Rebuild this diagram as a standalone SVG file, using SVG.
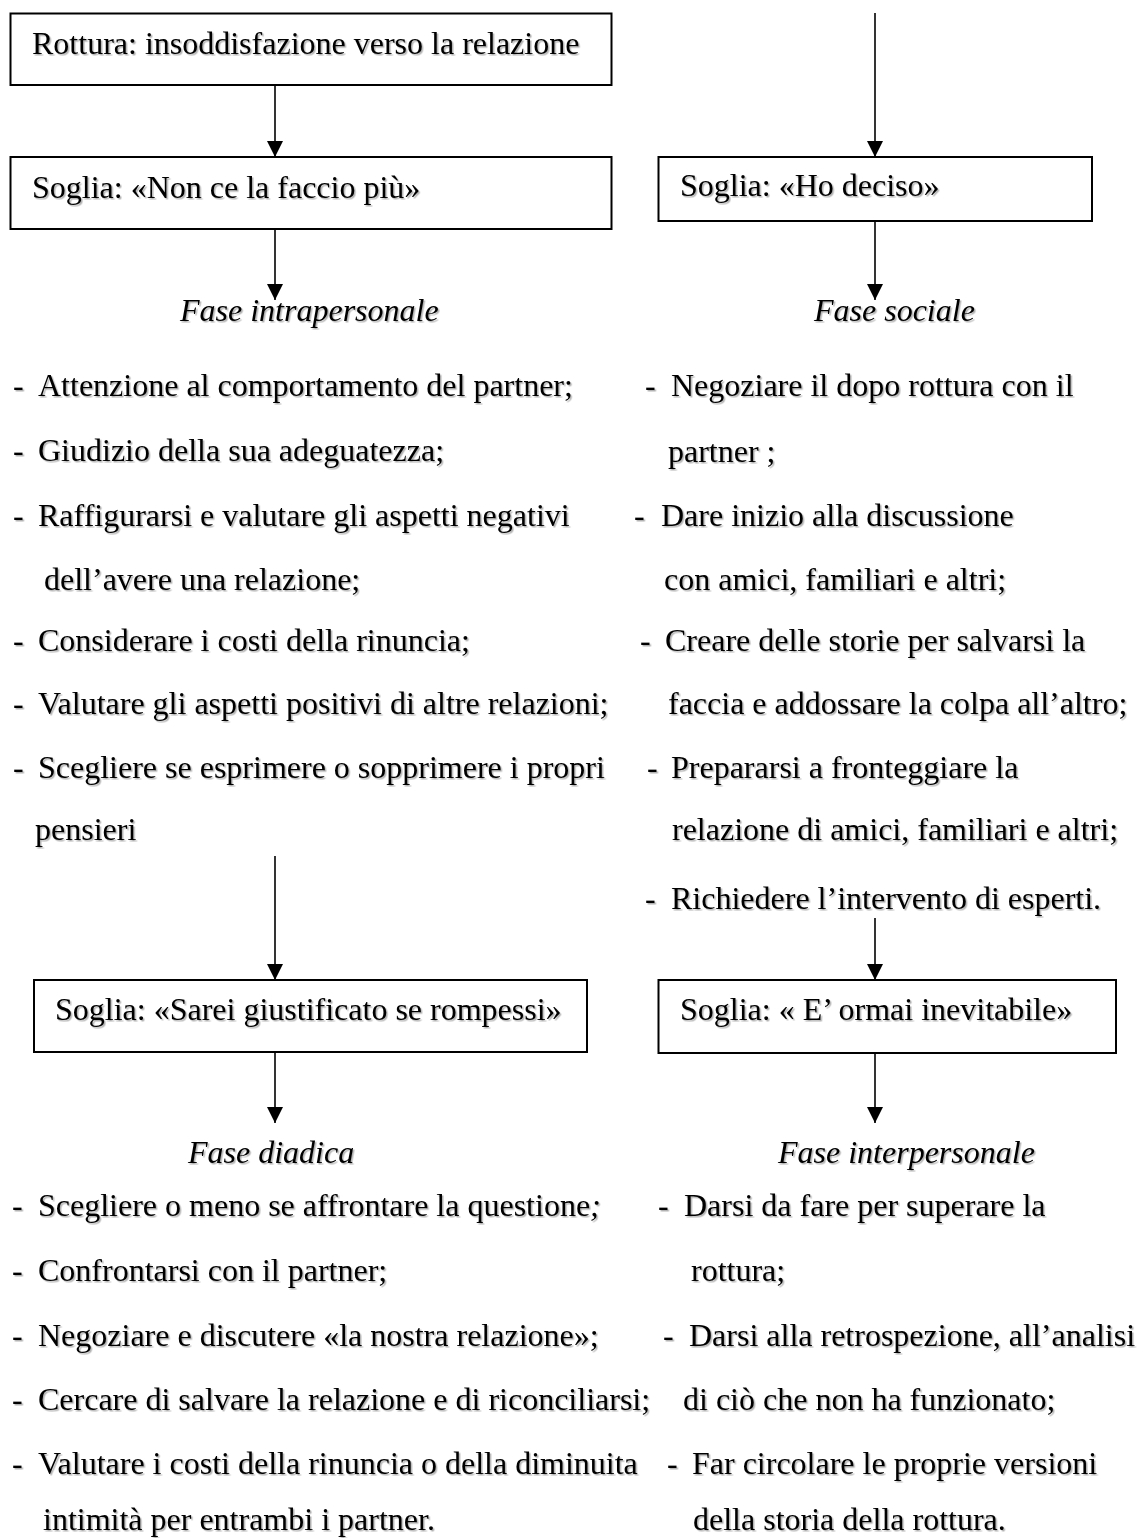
<svg xmlns="http://www.w3.org/2000/svg" width="1141" height="1538" viewBox="0 0 1141 1538">
<style>
text{font-family:"Liberation Serif","Times New Roman",serif;font-size:32px;fill:#000;filter:url(#sh)}
.it{font-style:italic}
.box{fill:#fff;stroke:#000;stroke-width:2}
.con line{stroke:#000;stroke-width:1.6;marker-end:url(#ah)}
</style>
<defs>
<filter id="sh" x="-5%" y="-20%" width="110%" height="150%">
<feDropShadow dx="1.5" dy="1.5" stdDeviation="0.7" flood-color="#000" flood-opacity="0.3"/>
</filter>
<marker id="ah" markerUnits="userSpaceOnUse" markerWidth="18" markerHeight="16" refX="16" refY="8" orient="auto">
<path d="M0,0 L16,8 L0,16 Z" fill="#000"/>
</marker>
</defs>
<rect width="1141" height="1538" fill="#fff"/>
<g class="con">
<line x1="275" y1="85" x2="275" y2="157"/>
<line x1="275" y1="229" x2="275" y2="300"/>
<line x1="875" y1="13" x2="875" y2="157"/>
<line x1="875" y1="221" x2="875" y2="300"/>
<line x1="275" y1="856" x2="275" y2="980"/>
<line x1="875" y1="918" x2="875" y2="980"/>
<line x1="275" y1="1052" x2="275" y2="1123"/>
<line x1="875" y1="1053" x2="875" y2="1123"/>
</g>
<g id="rottura"><rect class="box" x="10.5" y="13.5" width="601" height="71.5"/><text x="32" y="54">Rottura: insoddisfazione verso la relazione</text></g>
<g id="soglia1"><rect class="box" x="10.5" y="157" width="601" height="72"/><text x="32" y="198">Soglia: «Non ce la faccio più»</text></g>
<g id="soglia2"><rect class="box" x="658.5" y="157" width="433.5" height="64"/><text x="680" y="196">Soglia: «Ho deciso»</text></g>
<g id="fase-intrapersonale"><text class="it" x="180" y="321">Fase intrapersonale</text>
<text y="396"><tspan x="13">-</tspan><tspan x="38">Attenzione al comportamento del partner;</tspan></text>
<text y="461"><tspan x="13">-</tspan><tspan x="38">Giudizio della sua adeguatezza;</tspan></text>
<text y="526"><tspan x="13">-</tspan><tspan x="38">Raffigurarsi e valutare gli aspetti negativi</tspan></text>
<text x="44" y="590">dell’avere una relazione;</text>
<text y="651"><tspan x="13">-</tspan><tspan x="38">Considerare i costi della rinuncia;</tspan></text>
<text y="714"><tspan x="13">-</tspan><tspan x="38">Valutare gli aspetti positivi di altre relazioni;</tspan></text>
<text y="778"><tspan x="13">-</tspan><tspan x="38">Scegliere se esprimere o sopprimere i propri</tspan></text>
<text x="35" y="840">pensieri</text>
</g>
<g id="fase-sociale"><text class="it" x="814" y="321">Fase sociale</text>
<text y="396"><tspan x="645">-</tspan><tspan x="671">Negoziare il dopo rottura con il</tspan></text>
<text x="668" y="462">partner ;</text>
<text y="526"><tspan x="634">-</tspan><tspan x="661">Dare inizio alla discussione</tspan></text>
<text x="664" y="590">con amici, familiari e altri;</text>
<text y="651"><tspan x="640">-</tspan><tspan x="665">Creare delle storie per salvarsi la</tspan></text>
<text x="668" y="714">faccia e addossare la colpa all’altro;</text>
<text y="778"><tspan x="647">-</tspan><tspan x="671">Prepararsi a fronteggiare la</tspan></text>
<text x="672" y="840">relazione di amici, familiari e altri;</text>
<text y="909"><tspan x="645">-</tspan><tspan x="671">Richiedere l’intervento di esperti.</tspan></text>
</g>
<g id="soglia3"><rect class="box" x="34" y="980" width="553" height="72"/><text x="55" y="1020">Soglia: «Sarei giustificato se rompessi»</text></g>
<g id="soglia4"><rect class="box" x="658.5" y="980" width="457.5" height="73"/><text x="680" y="1020">Soglia: « E’ ormai inevitabile»</text></g>
<g id="fase-diadica"><text class="it" x="188" y="1163">Fase diadica</text>
<text y="1216"><tspan x="12">-</tspan><tspan x="38">Scegliere o meno se affrontare la questione</tspan><tspan class="it">;</tspan></text>
<text y="1281"><tspan x="12">-</tspan><tspan x="38">Confrontarsi con il partner;</tspan></text>
<text y="1346"><tspan x="12">-</tspan><tspan x="38">Negoziare e discutere «la nostra relazione»;</tspan></text>
<text y="1410"><tspan x="12">-</tspan><tspan x="38">Cercare di salvare la relazione e di riconciliarsi;</tspan></text>
<text y="1474"><tspan x="12">-</tspan><tspan x="38">Valutare i costi della rinuncia o della diminuita</tspan></text>
<text x="43" y="1530">intimità per entrambi i partner.</text>
</g>
<g id="fase-interpersonale"><text class="it" x="778" y="1163">Fase interpersonale</text>
<text y="1216"><tspan x="658">-</tspan><tspan x="684">Darsi da fare per superare la</tspan></text>
<text x="691" y="1281">rottura;</text>
<text y="1346"><tspan x="663">-</tspan><tspan x="689">Darsi alla retrospezione, all’analisi</tspan></text>
<text x="683" y="1410">di ciò che non ha funzionato;</text>
<text y="1474"><tspan x="667">-</tspan><tspan x="692">Far circolare le proprie versioni</tspan></text>
<text x="693" y="1530">della storia della rottura.</text>
</g>
</svg>
